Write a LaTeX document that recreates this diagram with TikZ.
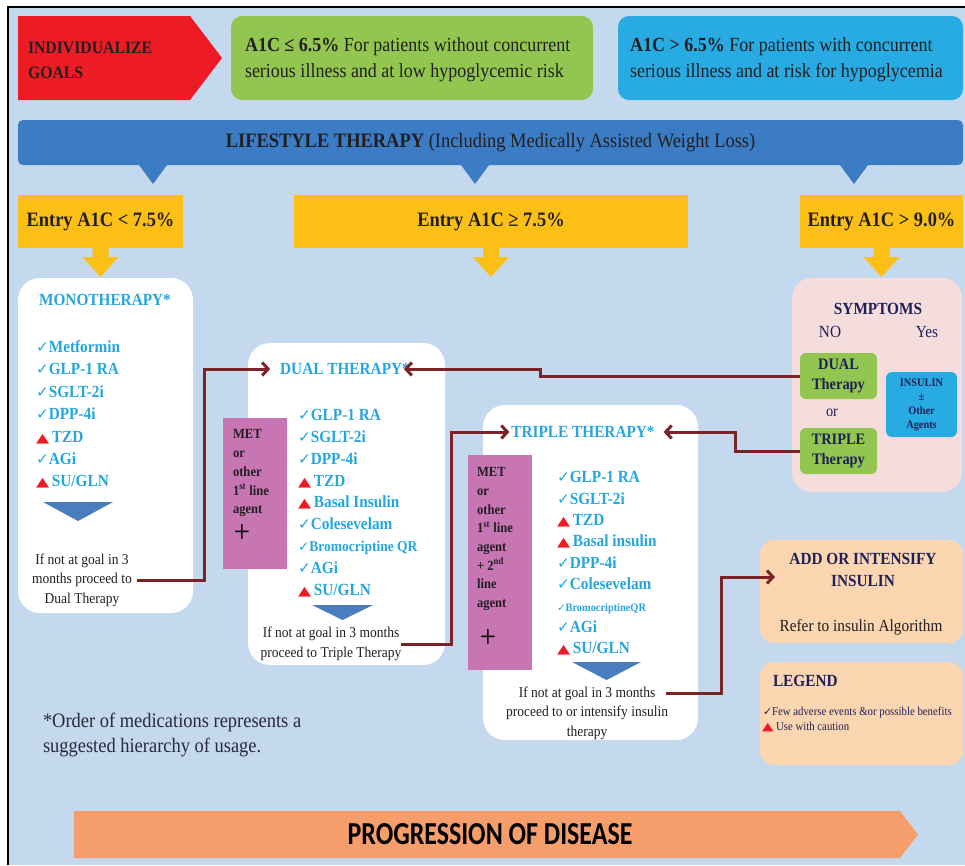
\documentclass[tikz,border=0pt]{standalone}
\usepackage{fontspec}
\usepackage{graphicx}
\setmainfont{Liberation Serif}[FakeStretch=0.9]
\newfontfamily\symf{DejaVu Sans}
\newfontfamily\calib{Carlito}[FakeStretch=0.81]
\usetikzlibrary{arrows.meta,calc}
\definecolor{bgc}{RGB}{197,217,238}
\definecolor{redc}{RGB}{237,28,36}
\definecolor{grnc}{RGB}{146,198,80}
\definecolor{cyac}{RGB}{40,170,226}
\definecolor{lifec}{RGB}{59,124,196}
\definecolor{yelc}{RGB}{252,191,22}
\definecolor{ttlc}{RGB}{38,166,222}
\definecolor{purc}{RGB}{200,117,180}
\definecolor{arrc}{RGB}{122,36,40}
\definecolor{tric}{RGB}{74,125,190}
\definecolor{pinkc}{RGB}{246,221,221}
\definecolor{peachc}{RGB}{251,214,176}
\definecolor{navyc}{RGB}{30,33,86}
\definecolor{orgc}{RGB}{246,157,108}
\definecolor{txtc}{RGB}{35,31,32}
\definecolor{notec}{RGB}{40,40,70}
\newcommand\ck{{\symf\scalebox{0.9}{✓}}}
\newcommand\tr{\textcolor{redc}{\symf\scalebox{1.0}[0.75]{▲}}\,}
\begin{document}
\begin{tikzpicture}[x=1pt,y=-1pt,
  every node/.style={inner sep=0pt,outer sep=0pt},
  ttl/.style={font=\fontsize{17}{20}\selectfont\bfseries,text=ttlc},
  item/.style={font=\fontsize{17}{20}\selectfont\bfseries,text=ttlc,anchor=base west},
  puritem/.style={font=\fontsize{14}{17}\selectfont\bfseries,text=txtc,anchor=base west},
  nxt/.style={font=\fontsize{15}{19.5}\selectfont,text=txtc,align=center},
  goaltxt/.style={font=\fontsize{20}{26}\selectfont,text=txtc,align=left,anchor=west},
  entry/.style={fill=yelc,minimum height=53pt,font=\fontsize{20.5}{24}\selectfont\bfseries,text=txtc},
  wbox/.style={fill=white,rounded corners=22pt},
  pbox/.style={fill=purc},
  gbox/.style={fill=grnc,rounded corners=6pt,minimum width=77pt,minimum height=46pt,align=center,
     font=\fontsize{16}{20}\selectfont\bfseries,text=navyc},
  obox/.style={fill=peachc,rounded corners=14pt,minimum width=203pt,minimum height=103pt},
  navyb/.style={font=\fontsize{17}{22}\selectfont\bfseries,text=navyc},
  navyr/.style={font=\fontsize{17}{22}\selectfont,text=navyc},
  conn/.style={draw=arrc,line width=3pt,-{Straight Barb[length=6pt,width=13pt]}},
  plus/.style={font=\fontsize{32}{32}\selectfont,text=black}
]
\useasboundingbox (0,0) rectangle (965,865);
% background and frame
\fill[white] (0,0) rectangle (965,865);
\fill[bgc] (8,7) rectangle (965,865);
\draw[line width=1.5pt,black] (8,865) -- (8,7) -- (965,7);

% top row
\fill[redc] (18,16) -- (190,16) -- (222,58) -- (190,100) -- (18,100) -- cycle;
\node[font=\fontsize{17.5}{25}\selectfont\bfseries,text=txtc,align=left,anchor=west] (goalsT) at (28,60) {INDIVIDUALIZE\\GOALS};
\node[fill=grnc,rounded corners=11pt,minimum width=362pt,minimum height=84pt] (goalLow) at (412,58) {};
\node[goaltxt] (goalLowT) at (245,60) {\textbf{A1C ≤ 6.5\%} For patients without concurrent\\serious illness and at low hypoglycemic risk};
\node[fill=cyac,rounded corners=11pt,minimum width=345pt,minimum height=84pt] (goalHigh) at (790.5,58) {};
\node[goaltxt] (goalHighT) at (630,60) {\textbf{A1C > 6.5\%} For patients with concurrent\\serious illness and at risk for hypoglycemia};

% lifestyle bar
\node[fill=lifec,rounded corners=5pt,minimum width=945pt,minimum height=45pt,
  font=\fontsize{20.5}{24}\selectfont,text=txtc] (life) at (490.5,142.5)
  {\textbf{LIFESTYLE THERAPY} (Including Medically Assisted Weight Loss)};
\foreach \xx in {153,475,854}
  \fill[lifec] (\xx-14,165) -- (\xx+14,165) -- (\xx,184) -- cycle;

% entry boxes
\node[entry,minimum width=165pt] (entryL) at (100.5,221.5) {Entry A1C < 7.5\%};
\node[entry,minimum width=394pt] (entryM) at (491,221.5) {Entry A1C ≥ 7.5\%};
\node[entry,minimum width=163pt] (entryR) at (881.5,221.5) {Entry A1C > 9.0\%};
\foreach \e in {entryL,entryM,entryR}
  \fill[yelc] ($(\e.south)+(-8,0)$) -- ++(16,0) -- ++(0,9) -- ++(10,0) -- ++(-18,20)
     -- ++(-18,-20) -- ++(10,0) -- cycle;

% monotherapy
\node[wbox,minimum width=175pt,minimum height=335pt] (mono) at (105.5,445.5) {};
\node[ttl] (monoT) at (105,300) {MONOTHERAPY*};
\foreach \t [count=\i from 0] in {\ck Metformin,\ck GLP-1 RA,\ck SGLT-2i,\ck DPP-4i,\tr TZD,\ck AGi,\tr SU/GLN}
  \node[item] (mono\i) at (36,352.6+22.35*\i) {\t};
\fill[tric] (43,502) -- (113,502) -- (78,521) -- cycle;
\node[nxt] (monoNext) at (82,580) {If not at goal in 3\\months proceed to\\Dual Therapy};

% dual therapy
\node[wbox,minimum width=197pt,minimum height=322pt] (dual) at (346.5,504) {};
\node[pbox,minimum width=64pt,minimum height=151pt] (dualP) at (255,493.5) {};
\foreach \t [count=\i from 0] in {MET,or,other,1\textsuperscript{st} line,agent}
  \node[puritem] (dualP\i) at (233,438.6+18.8*\i) {\t};
\node[plus] (dualPlus) at (242,533) {+};
\node[ttl] (dualT) at (345,369) {DUAL THERAPY*};
\foreach \t [count=\i from 0] in {\ck GLP-1 RA,\ck SGLT-2i,\ck DPP-4i,\tr TZD,\tr Basal Insulin,\ck Colesevelam,{\fontsize{15}{18}\selectfont\ck Bromocriptine QR},\ck AGi,\tr SU/GLN}
  \node[item] (dual\i) at (298,420.6+21.8*\i) {\t};
\fill[tric] (312,605) -- (373,605) -- (342.5,620) -- cycle;
\node[nxt] (dualNext) at (331,644) {If not at goal in 3 months\\proceed to Triple Therapy};

% triple therapy
\node[wbox,minimum width=215pt,minimum height=335pt] (trip) at (590.5,572.5) {};
\node[pbox,minimum width=64pt,minimum height=215pt] (tripP) at (500,562.5) {};
\foreach \t [count=\i from 0] in {MET,or,other,1\textsuperscript{st} line,agent,+ 2\textsuperscript{nd},line,agent}
  \node[puritem] (tripP\i) at (477,476.6+18.7*\i) {\t};
\node[plus] (tripPlus) at (488,638) {+};
\node[ttl] (tripT) at (583,432) {TRIPLE THERAPY*};
\foreach \t [count=\i from 0] in {\ck GLP-1 RA,\ck SGLT-2i,\tr TZD,\tr Basal insulin,\ck DPP-4i,\ck Colesevelam,{\fontsize{11.5}{14}\selectfont\ck BromocriptineQR},\ck AGi,\tr SU/GLN}
  \node[item] (trip\i) at (557,482.6+21.4*\i) {\t};
\fill[tric] (572,662) -- (641,662) -- (606.5,680) -- cycle;
\node[nxt] (tripNext) at (587,713) {If not at goal in 3 months\\proceed to or intensify insulin\\therapy};

% symptoms
\node[fill=pinkc,rounded corners=20pt,minimum width=170pt,minimum height=214pt] (sym) at (877,385) {};
\node[navyb] (symT) at (878,309) {SYMPTOMS};
\node[navyr] (symNo) at (830,332) {NO};
\node[navyr] (symYes) at (927,332) {Yes};
\node[gbox] (symDual) at (838.5,376) {DUAL\\Therapy};
\node[font=\fontsize{16}{20}\selectfont,text=navyc] (symOr) at (832,413) {or};
\node[gbox] (symTrip) at (838.5,451) {TRIPLE\\Therapy};
\node[fill=cyac,rounded corners=6pt,minimum width=71pt,minimum height=65pt,align=center,
  font=\fontsize{11.5}{14}\selectfont\bfseries,text=navyc] (symIns) at (921.5,404.5) {INSULIN\\±\\Other\\Agents};

% add or intensify, legend
\node[obox] (addB) at (861.5,591.5) {};
\node[navyb,align=center] (addT) at (863,570) {ADD OR INTENSIFY\\INSULIN};
\node[font=\fontsize{17}{22}\selectfont,text=txtc] (addR) at (861,627) {Refer to insulin Algorithm};
\node[obox] (legB) at (861.5,713.5) {};
\node[navyb,anchor=west] (legT) at (773,681) {LEGEND};
\node[font=\fontsize{12}{14}\selectfont,text=navyc,anchor=west] (leg1) at (763,713) {\ck Few adverse events \&or possible benefits};
\node[font=\fontsize{12}{14}\selectfont,text=navyc,anchor=west] (leg2) at (762,727) {{\fontsize{15}{15}\selectfont\tr}Use with caution};

% footnote
\node[font=\fontsize{20.5}{25}\selectfont,text=notec,align=left,anchor=west] (note) at (43,735)
  {*Order of medications represents a\\suggested hierarchy of usage.};

% progression arrow
\fill[orgc] (74,811) -- (900,811) -- (918,834.5) -- (900,858) -- (74,858) -- cycle;
\node[font=\calib\bfseries\fontsize{32}{32}\selectfont,text=black] (prog) at (490,834) {PROGRESSION OF DISEASE};

% connectors
\coordinate (jA) at (204,0);
\coordinate (jB) at (451,0);
\coordinate (jC) at (721,0);
\coordinate (jD) at (540,0);
\coordinate (jE) at (735,0);
\coordinate (tOut) at (666,693);
\draw[conn,shorten >=10pt,shorten <=5pt] (monoNext.east) -- (monoNext.east -| jA) |- (dualT.west);
\draw[conn,shorten >=2pt] (dualNext.east) -- (dualNext.east -| jB) |- (tripT.west);
\draw[conn] (tOut) -- (tOut -| jC) |- ($(addB.north west)+(15,37)$);
\draw[conn,shorten >=-6pt] (symDual.west) -- (symDual.west -| jD) |- (dualT.east);
\draw[conn,shorten >=9pt] (symTrip.west) -- (symTrip.west -| jE) |- (tripT.east);
\end{tikzpicture}
\end{document}
